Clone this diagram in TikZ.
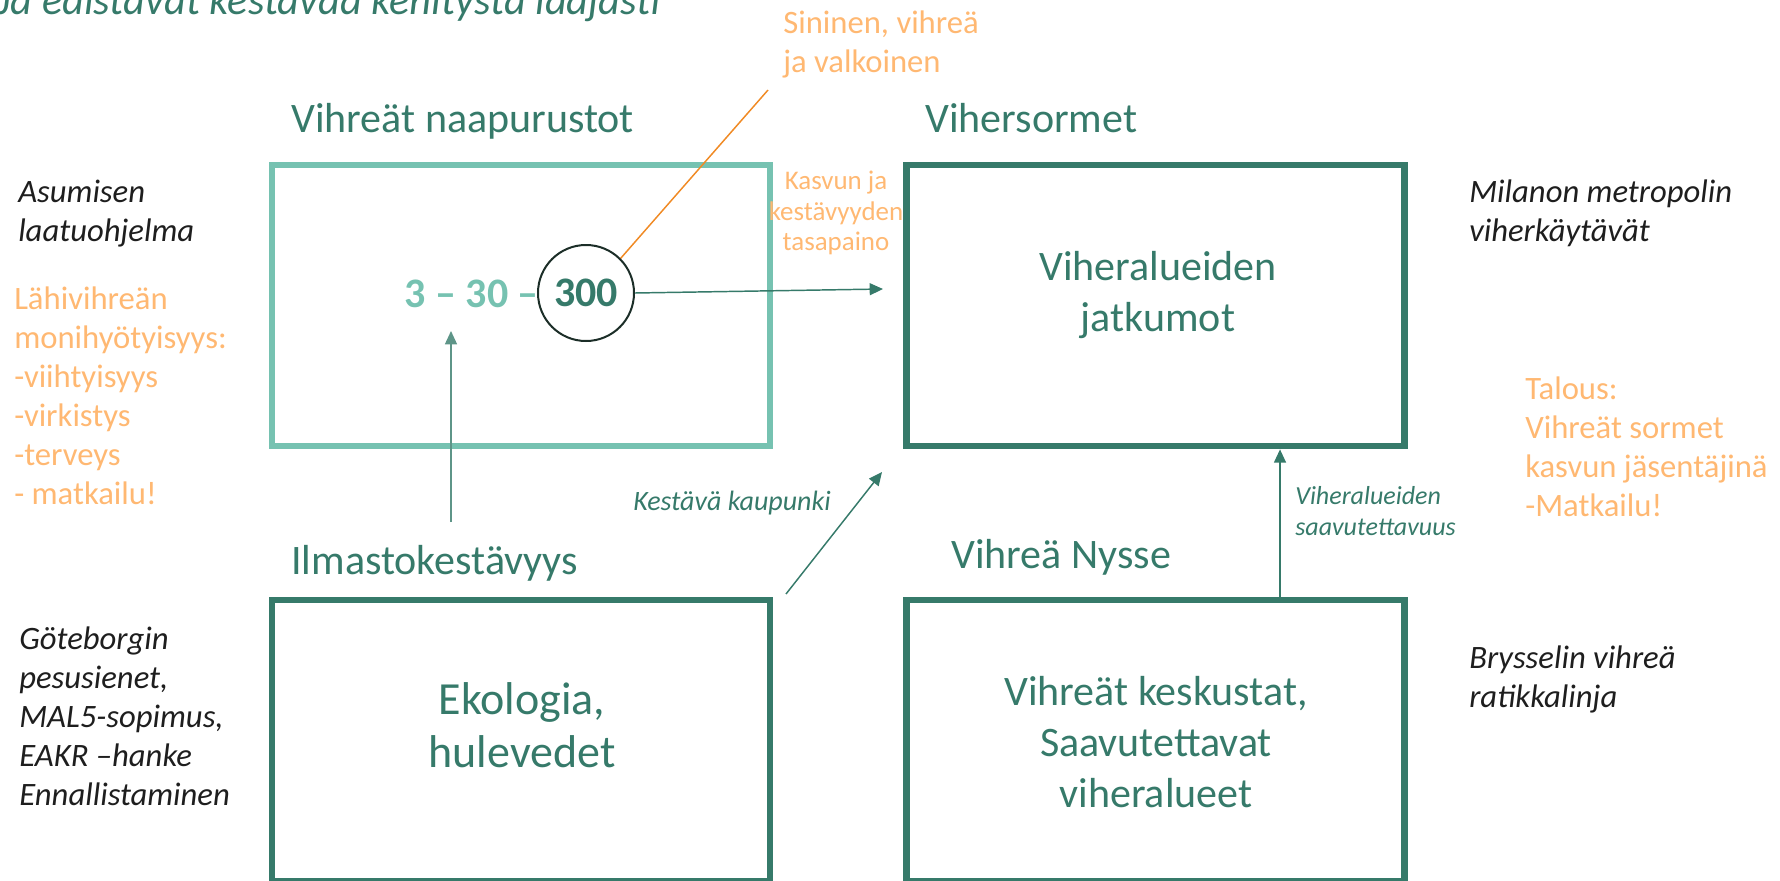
\documentclass[tikz,border=0pt]{standalone}
\usepackage{fontspec}
\setmainfont{Carlito}
\usetikzlibrary{arrows.meta}
\definecolor{dkgreen}{HTML}{367A6A}
\definecolor{ltteal}{HTML}{76C2B1}
\definecolor{orngtxt}{HTML}{FFB872}
\definecolor{orngline}{HTML}{F08A24}
\definecolor{blk}{HTML}{1E1E1E}
\definecolor{circline}{HTML}{1C2E28}
\begin{document}
\begin{tikzpicture}[x=0.75pt,y=-0.75pt,
  box/.style={draw,line width=4.9pt,minimum width=373.5pt,minimum height=211pt,inner sep=0pt,outer sep=0pt},
  head/.style={anchor=base west,inner sep=0pt,text=dkgreen,font=\fontsize{31.5}{38}\selectfont},
  inbox/.style={align=center,inner sep=0pt,text=dkgreen,font=\fontsize{31.5}{38}\selectfont},
  note/.style={anchor=west,align=left,inner sep=0pt,text=blk,font=\fontsize{24.5}{29.25}\selectfont\itshape},
  onote/.style={anchor=west,align=left,inner sep=0pt,text=orngtxt,font=\fontsize{24.5}{29.25}\selectfont},
  small/.style={inner sep=0pt,text=dkgreen,font=\fontsize{19.5}{22.9}\selectfont\itshape},
  conn/.style={color=dkgreen,line width=1.1pt,-{Triangle[length=10pt,width=9pt]}},
]
\useasboundingbox (0,0) rectangle (1780,881);
% boxes
\node[box,draw=ltteal] (b1) at (521,305.5) {};
\node[box,draw=dkgreen] (b2) at (1155.5,305.5) {};
\node[box,draw=dkgreen] (b3) at (521,740.5) {};
\node[box,draw=dkgreen] (b4) at (1155.5,740.5) {};
% title
\node[anchor=base west,inner sep=0pt,text=dkgreen,font=\fontsize{31.8}{37}\selectfont\itshape] (title) at (-3,15) {Ja edistävät kestävää kehitystä laajasti};
% headings
\node[head] (h1) at (291,132) {Vihreät naapurustot};
\node[head] (h2) at (925,132) {Vihersormet};
\node[head] (h3) at (291,574) {Ilmastokestävyys};
\node[head] (h4) at (951,568) {Vihreä Nysse};
% box texts
\node[inbox] (t2) at (1158,295) {Viheralueiden\\jatkumot};
\node[inbox,font=\fontsize{34.5}{40}\selectfont] (t3) at (522,725) {Ekologia,\\hulevedet};
\node[inbox] (t4) at (1156,742) {Vihreät keskustat,\\Saavutettavat\\viheralueet};
% numbers
\node[anchor=base east,inner sep=0pt,text=ltteal,font=\fontsize{31.5}{37}\selectfont\bfseries] (n330) at (539,307) {3 – 30 –};
\node[circle,draw=circline,line width=1.5pt,minimum size=72pt,inner sep=0pt,text=dkgreen,font=\fontsize{31.5}{37}\selectfont\bfseries] (c300) at (586,293) {300};
% orange leader
\coordinate (oe) at (768,90);
\draw[orngline,line width=1.1pt] (c300.45) -- (oe);
% connectors
\coordinate (a1e) at (883,289);
\draw[conn] (c300.east) -- (a1e);
\coordinate (a2s) at (451,522);
\coordinate (a2e) at (451,331);
\draw[conn,color=dkgreen!80!white] (a2s) -- (a2e);
\coordinate (a3s) at (786,594);
\coordinate (a3e) at (882,472);
\draw[conn] (a3s) -- (a3e);
\coordinate (a4x) at (1280,0);
\draw[conn,shorten >=2.4pt] (a4x |- b4.north) -- (a4x |- b2.south);
% labels
\node[align=center,inner sep=0pt,text=orngtxt,font=\fontsize{20.2}{23}\selectfont] (lk) at (836,213) {Kasvun ja\\kestävyyden\\tasapaino};
\node[small,font=\fontsize{21}{24}\selectfont\itshape] (lkk) at (732,503) {Kestävä kaupunki};
\node[small,anchor=west,align=left] (lvs) at (1295,511) {Viheralueiden\\saavutettavuus};
% side notes
\node[onote] (nS) at (783,44) {Sininen, vihreä\\ja valkoinen};
\node[note] (nA) at (18,214) {Asumisen\\laatuohjelma};
\node[onote] (nL) at (14,396) {Lähivihreän\\monihyötyisyys:\\-viihtyisyys\\-virkistys\\-terveys\\- matkailu!};
\node[note] (nM) at (1469,213) {Milanon metropolin\\viherkäytävät};
\node[onote] (nT) at (1525,447) {Talous:\\Vihreät sormet\\kasvun jäsentäjinä\\-Matkailu!};
\node[note] (nG) at (19,716) {Göteborgin\\pesusienet,\\MAL5-sopimus,\\EAKR –hanke\\Ennallistaminen};
\node[note] (nB) at (1469,679) {Brysselin vihreä\\ratikkalinja};
\end{tikzpicture}
\end{document}
